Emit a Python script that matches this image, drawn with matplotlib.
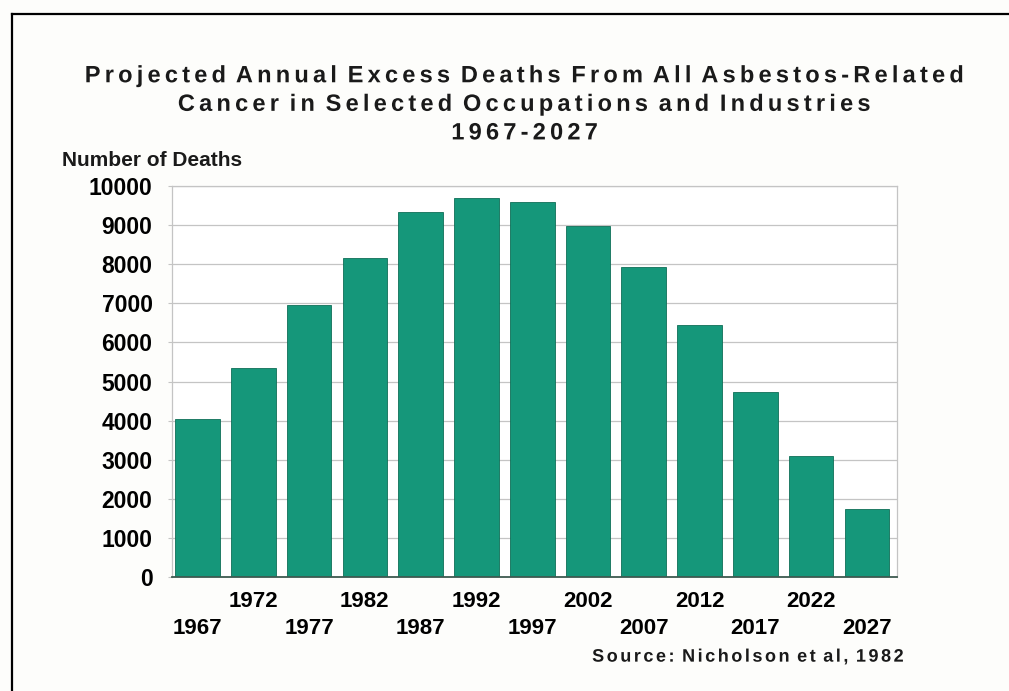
import numpy as np
import matplotlib.pyplot as plt
from matplotlib.lines import Line2D
from matplotlib.path import Path
from matplotlib.patheffects import AbstractPathEffect

# values
years = ["1967", "1972", "1977", "1982", "1987", "1992", "1997",
         "2002", "2007", "2012", "2017", "2022", "2027"]
deaths = [4030, 5350, 6950, 8160, 9330, 9700, 9600,
          8990, 7940, 6450, 4730, 3090, 1740]
y_ticks = [0, 1000, 2000, 3000, 4000, 5000, 6000, 7000, 8000, 9000, 10000]

title = ("Projected Annual Excess Deaths From All Asbestos-Related\n"
         "Cancer in Selected Occupations and Industries\n"
         "1967-2027")
y_label = "Number of Deaths"
source = "Source: Nicholson et al, 1982"

BAR = "#15977a"
FONT = "Liberation Sans"


class Tracking(AbstractPathEffect):
    """Letter-spacing for a text line: shifts each glyph of the text path."""

    def __init__(self, em, anchor="center"):
        super().__init__()
        self.em = em
        self.anchor = anchor

    def draw_path(self, renderer, gc, tpath, affine, rgbFace=None):
        verts = np.array(tpath.vertices, dtype=float)
        codes = tpath.codes
        if codes is None or len(verts) == 0:
            renderer.draw_path(gc, tpath, affine, rgbFace)
            return
        starts = list(np.flatnonzero(codes == Path.MOVETO))
        ends = starts[1:] + [len(verts)]
        # subpaths overlapping the previous glyph (holes, dots) belong to it
        glyph = []
        g_lo = g_hi = None
        idx = -1
        for s, e in zip(starts, ends):
            lo, hi = verts[s:e, 0].min(), verts[s:e, 0].max()
            if g_lo is not None:
                overlap = min(hi, g_hi) - max(lo, g_lo)
                if overlap > 0.5 * min(hi - lo, g_hi - g_lo):
                    g_lo, g_hi = min(lo, g_lo), max(hi, g_hi)
                    glyph.append((s, e, idx))
                    continue
            idx += 1
            g_lo, g_hi = lo, hi
            glyph.append((s, e, idx))
        n = idx + 1
        step = self.em * 100.0  # text paths use FONT_SCALE = 100 units per em
        base = step * (n - 1) / 2 if self.anchor == "center" else step * (n - 1)
        for s, e, i in glyph:
            verts[s:e, 0] += step * i - base
        renderer.draw_path(gc, Path(verts, codes), affine, rgbFace)


plt.rcParams["font.family"] = [FONT, "DejaVu Sans"]

fig = plt.figure(figsize=(10.09, 6.91), dpi=100, facecolor="#fdfdfb")
ax = fig.add_axes([0.1705, 0.165, 0.7185, 0.5658])
ax.set_facecolor("white")

x = list(range(len(years)))
ax.bar(x, deaths, width=0.8, color=BAR, edgecolor="#0e6e57", linewidth=0.6, zorder=3)

ax.set_xlim(-0.457, 12.54)
ax.set_ylim(0, 10000)
ax.set_yticks(y_ticks)
ax.set_yticklabels([str(v) for v in y_ticks], fontsize=16.5, fontweight="bold")
ax.yaxis.grid(True, color="#c4c4c4", linewidth=0.9, zorder=0)
ax.tick_params(axis="y", length=3, color="#c4c4c4", pad=11)

# alternate the year labels on two rows
labels = [yr if i % 2 else "\n" + yr for i, yr in enumerate(years)]
ax.set_xticks(x)
ax.set_xticklabels(labels, fontsize=16, fontweight="bold", linespacing=1.4)
ax.tick_params(axis="x", length=0, pad=10)

for side in ("left", "top", "right"):
    ax.spines[side].set_color("#c4c4c4")
    ax.spines[side].set_linewidth(0.9)
ax.spines["bottom"].set_color("#3d5a50")
ax.spines["bottom"].set_linewidth(1.3)
ax.spines["bottom"].set_zorder(4)

fig.text(0.52, 0.849, title, ha="center", va="center", fontsize=17,
         fontweight="bold", linespacing=1.31, color="#1a1a1a",
         path_effects=[Tracking(0.178)])
fig.text(0.0614, 0.768, y_label, ha="left", va="center", fontsize=15,
         fontweight="bold", color="#1a1a1a")
fig.text(0.895, 0.049, source, ha="right", va="center", fontsize=13,
         fontweight="bold", color="#1a1a1a",
         path_effects=[Tracking(0.14, anchor="right")])

# frame of the scanned page
fig.add_artist(Line2D([0.0119, 1.0], [0.9797, 0.9797], color="black",
                      linewidth=1.6, transform=fig.transFigure))
fig.add_artist(Line2D([0.0119, 0.0119], [0.0, 0.9797], color="black",
                      linewidth=1.6, transform=fig.transFigure))

fig.savefig("out.png", dpi=100, facecolor=fig.get_facecolor())
